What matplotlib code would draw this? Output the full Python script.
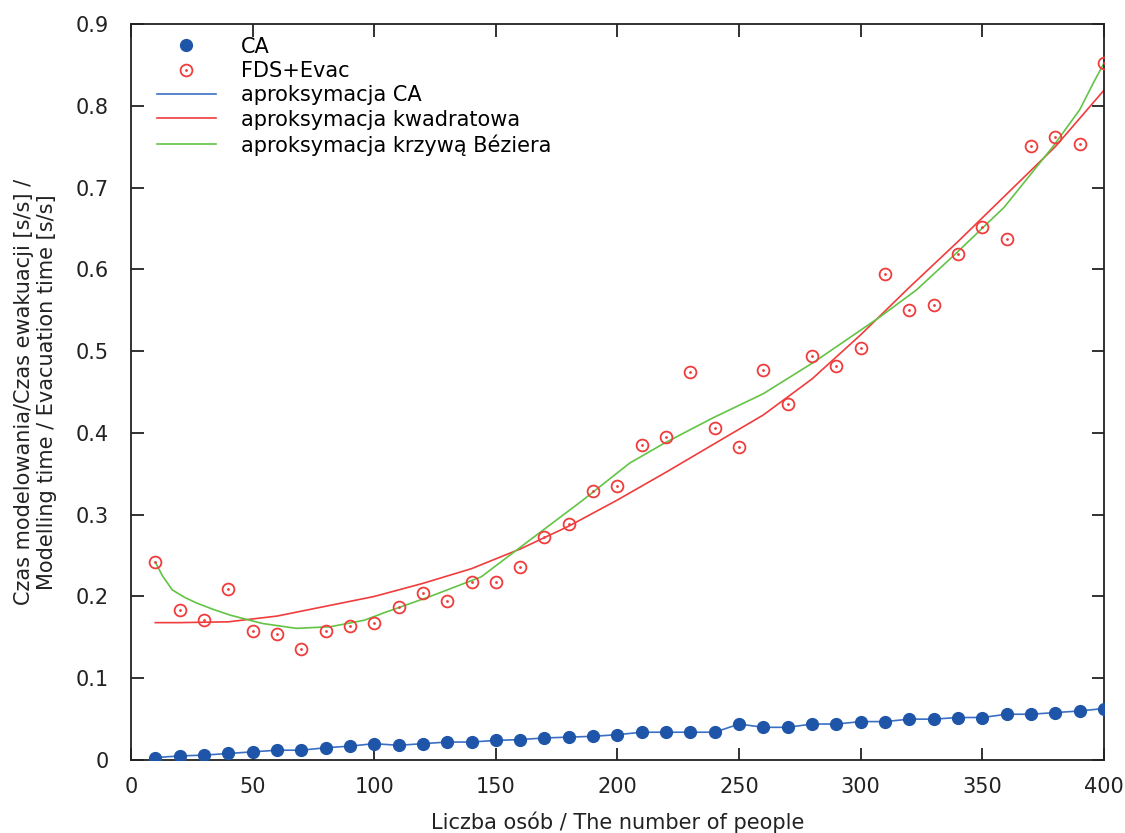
import matplotlib
matplotlib.use("Agg")
import matplotlib.pyplot as plt
from matplotlib.legend_handler import HandlerTuple

# data
people = [10, 20, 30, 40, 50, 60, 70, 80, 90, 100,
          110, 120, 130, 140, 150, 160, 170, 180, 190, 200,
          210, 220, 230, 240, 250, 260, 270, 280, 290, 300,
          310, 320, 330, 340, 350, 360, 370, 380, 390, 400]
ca = [0.003, 0.005, 0.006, 0.008, 0.010, 0.012, 0.012, 0.015, 0.017, 0.020,
      0.018, 0.020, 0.022, 0.022, 0.024, 0.025, 0.027, 0.028, 0.029, 0.031,
      0.034, 0.034, 0.034, 0.034, 0.044, 0.040, 0.040, 0.044, 0.044, 0.047,
      0.047, 0.050, 0.050, 0.052, 0.052, 0.056, 0.056, 0.058, 0.060, 0.063]
fds = [0.242, 0.183, 0.171, 0.209, 0.158, 0.154, 0.136, 0.158, 0.164, 0.167,
       0.187, 0.204, 0.194, 0.218, 0.218, 0.236, 0.273, 0.289, 0.329, 0.335,
       0.385, 0.395, 0.474, 0.406, 0.383, 0.477, 0.435, 0.494, 0.482, 0.504,
       0.594, 0.550, 0.556, 0.619, 0.652, 0.637, 0.751, 0.762, 0.753, 0.852]

# quadratic approximation curve (read off)
quad_x = [10, 20, 40, 60, 80, 100, 120, 140, 160, 180, 200, 220, 240,
          260, 280, 300, 320, 340, 360, 380, 400]
quad_y = [0.168, 0.168, 0.169, 0.176, 0.188, 0.200, 0.216, 0.234, 0.258, 0.286,
          0.318, 0.352, 0.387, 0.422, 0.466, 0.520, 0.578, 0.634, 0.692, 0.750, 0.819]

# Bezier approximation curve (read off)
bez_x = [10, 13, 17, 22, 27, 34, 41, 54, 68, 82, 96, 104, 123, 144, 164, 185,
         205, 219, 239, 260, 281, 308, 323, 339, 359, 379, 390, 396, 400]
bez_y = [0.242, 0.225, 0.208, 0.199, 0.192, 0.184, 0.177, 0.167, 0.161, 0.163,
         0.171, 0.180, 0.200, 0.224, 0.269, 0.316, 0.363, 0.387, 0.418, 0.448,
         0.487, 0.542, 0.575, 0.619, 0.676, 0.750, 0.795, 0.830, 0.852]

blue = "#1f55a8"
blue_line = "#3a6fc4"
red = "#f03c3c"
green = "#62c444"
ink = "#222222"
fs = 15

plt.rcParams["font.family"] = "DejaVu Sans"
fig = plt.figure(figsize=(11.25, 8.33), dpi=100)
ax = fig.add_axes([0.1164, 0.0876, 0.8649, 0.8836])

ca_pts, = ax.plot(people, ca, "o", color=blue, markersize=8.5, zorder=4)
fds_ring, = ax.plot(people, fds, "o", mfc="none", mec=red, mew=1.3, markersize=8.5, zorder=4)
fds_dot, = ax.plot(people, fds, ".", color=red, markersize=2, zorder=4)
ca_fit, = ax.plot(people, ca, "-", color=blue_line, lw=1.2, zorder=3)
quad_fit, = ax.plot(quad_x, quad_y, "-", color=red, lw=1.2)
bez_fit, = ax.plot(bez_x, bez_y, "-", color=green, lw=1.2)

ax.set_xlim(0, 400)
ax.set_ylim(0, 0.9)
ax.set_xticks(range(0, 401, 50))
ax.set_yticks([i / 10 for i in range(10)])
ax.set_yticklabels(["0"] + [f"{i / 10:.1f}" for i in range(1, 10)])
ax.tick_params(direction="in", length=9, width=1.3, top=True, right=True,
               labelsize=fs, colors=ink)
ax.tick_params(axis="y", pad=16)
ax.tick_params(axis="x", pad=12)
for s in ax.spines.values():
    s.set_linewidth(1.3)
    s.set_color(ink)

ax.set_xlabel("Liczba osób / The number of people", fontsize=fs, color=ink, labelpad=11)
ax.set_ylabel("Czas modelowania/Czas ewakuacji [s/s] /\nModelling time / Evacuation time [s/s]",
              fontsize=fs, color=ink, labelpad=13)

ax.legend([ca_pts, (fds_ring, fds_dot), ca_fit, quad_fit, bez_fit],
          ["CA", "FDS+Evac", "aproksymacja CA", "aproksymacja kwadratowa",
           "aproksymacja krzywą Béziera"],
          handler_map={tuple: HandlerTuple(ndivide=1, pad=0)},
          loc="upper left", frameon=False, fontsize=fs, handlelength=2.8,
          handletextpad=1.2, labelspacing=0.21, borderpad=0, borderaxespad=0,
          bbox_to_anchor=(0.027, 0.983))

fig.savefig("out.png", dpi=100)
